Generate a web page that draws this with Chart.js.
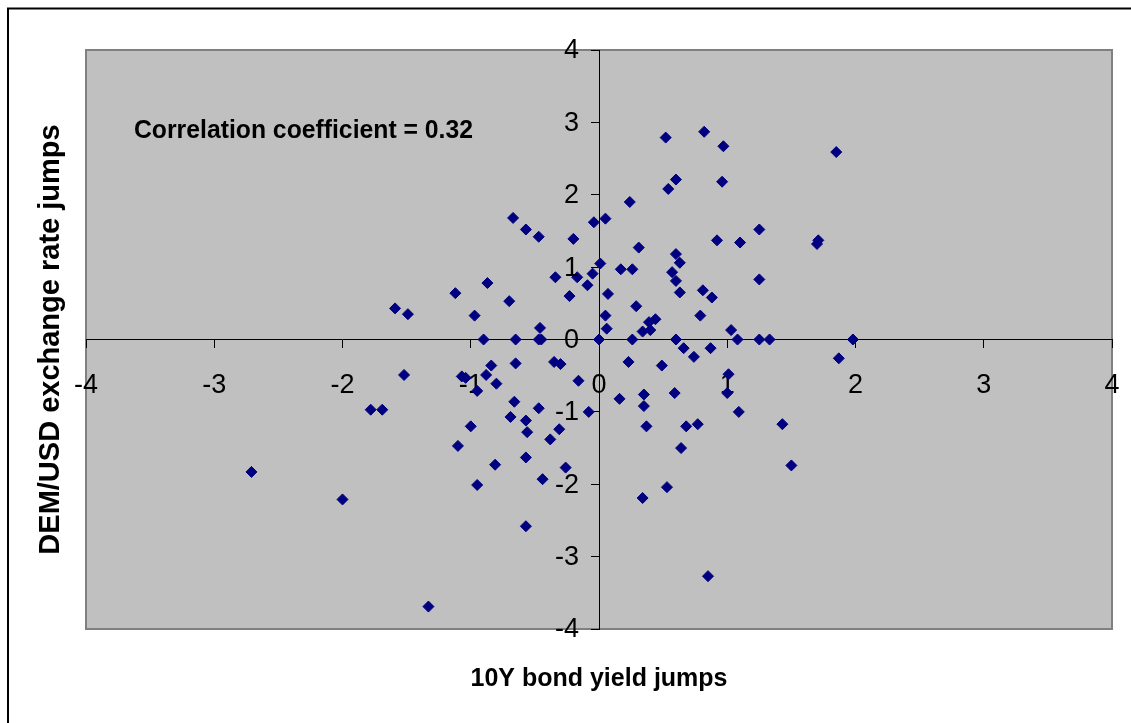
<!DOCTYPE html>
<html>
<head>
<meta charset="utf-8">
<script src="https://cdn.jsdelivr.net/npm/chart.js@4/dist/chart.umd.min.js"></script>
<style>
  body { margin: 0; background: #fff; }
  #wrap { width: 1131px; height: 723px; position: relative; }
</style>
</head>
<body>
<div id="wrap"><canvas id="myChart" width="1131" height="723"></canvas></div>
<script>
        // 10Y bond yield jumps (x) vs DEM/USD exchange rate jumps (y)
        const bondJumps = [
            -1.59, -1.49, -1.12, -0.87, -0.97, -0.90, -1.52, -1.07, -1.04, -0.84,
            -0.88, -0.80, -0.95, -1.78, -1.69, -1.00, -1.10, -0.81, -0.95, -2.71,
            -2.00, -1.33, -0.67, -0.57, -0.47, -0.20, -0.04, 0.05, -0.34, -0.17,
            -0.05, 0.01, -0.09, -0.23, 0.07, -0.70, 0.05, 0.06, -0.46, -0.65,
            -0.47, -0.45, 0.00, 0.17, 0.26, -0.65, -0.35, -0.30, -0.16, -0.66,
            -0.47, -0.69, -0.57, -0.56, -0.31, -0.38, -0.08, 0.16, -0.57, -0.26,
            -0.44, -0.57, 0.23, 0.24, 0.31, 0.29, 0.26, 0.34, 0.39, 0.40,
            0.44, 0.52, 0.54, 0.60, 0.60, 0.63, 0.57, 0.60, 0.63, 0.60,
            0.66, 0.82, 0.97, 0.96, 0.92, 1.10, 0.81, 0.88, 0.79, 0.87,
            1.25, 1.25, 1.03, 1.08, 1.25, 1.33, 1.70, 1.71, 1.85, 1.98,
            0.49, 0.74, 0.35, 0.35, 0.59, 0.37, 0.68, 0.77, 0.64, 1.01,
            1.00, 1.09, 1.43, 1.50, 1.87, 0.53, 0.34, 0.85
        ];
        const fxJumps = [
            0.43, 0.35, 0.64, 0.78, 0.33, 0.00, -0.49, -0.51, -0.53, -0.36,
            -0.49, -0.61, -0.71, -0.97, -0.97, -1.20, -1.47, -1.73, -2.01, -1.83,
            -2.21, -3.69, 1.68, 1.52, 1.42, 1.39, 1.62, 1.67, 0.86, 0.86,
            0.91, 1.05, 0.75, 0.60, 0.63, 0.53, 0.33, 0.15, 0.16, 0.00,
            0.00, 0.00, 0.00, 0.97, 0.97, -0.33, -0.31, -0.34, -0.57, -0.86,
            -0.95, -1.07, -1.12, -1.28, -1.24, -1.38, -1.00, -0.82, -1.63, -1.77,
            -1.93, -2.58, -0.31, 1.90, 1.27, 0.46, 0.00, 0.11, 0.24, 0.13,
            0.28, 2.79, 2.08, 2.21, 1.18, 1.06, 0.93, 0.81, 0.65, 0.00,
            -0.12, 2.87, 2.67, 2.18, 1.37, 1.34, 0.68, 0.58, 0.33, -0.12,
            1.52, 0.83, 0.13, 0.00, 0.00, 0.00, 1.32, 1.37, 2.59, 0.00,
            -0.36, -0.24, -0.76, -0.92, -0.74, -1.20, -1.20, -1.17, -1.50, -0.48,
            -0.74, -1.00, -1.17, -1.74, -0.26, -2.04, -2.19, -3.27
        ];
        const tickValues = [-4, -3, -2, -1, 0, 1, 2, 3, 4];
        const xTitle = '10Y bond yield jumps';
        const yTitle = 'DEM/USD exchange rate jumps';
        const corrText = 'Correlation coefficient = 0.32';

        const points = bondJumps.map((x, i) => ({ x: x, y: fxJumps[i] }));
        const fontFamily = '"Liberation Sans", Arial, sans-serif';
        const tickFontSize = 27;

        // gray plot area, outer frame and the texts
        const frame = {
            id: 'frame',
            beforeDraw(chart) {
                const ctx = chart.ctx;
                const a = chart.chartArea;
                ctx.save();
                ctx.fillStyle = '#fff';
                ctx.fillRect(0, 0, chart.width, chart.height);
                ctx.strokeStyle = '#000';
                ctx.lineWidth = 2;
                ctx.beginPath();
                ctx.moveTo(8, chart.height + 5);
                ctx.lineTo(8, 8.5);
                ctx.lineTo(chart.width + 5, 8.5);
                ctx.stroke();
                ctx.fillStyle = '#C0C0C0';
                ctx.fillRect(a.left, a.top, a.right - a.left, a.bottom - a.top);
                ctx.strokeStyle = '#808080';
                ctx.lineWidth = 2;
                ctx.strokeRect(a.left, a.top, a.right - a.left, a.bottom - a.top);
                ctx.restore();
            },
            afterDraw(chart) {
                const ctx = chart.ctx;
                const a = chart.chartArea;
                const xs = chart.scales.x;
                const ys = chart.scales.y;
                ctx.save();
                ctx.fillStyle = '#000';

                // y tick labels, left of the axis line at x = 0
                ctx.font = tickFontSize + 'px ' + fontFamily;
                ctx.textAlign = 'right';
                ctx.textBaseline = 'middle';
                const axisX = xs.getPixelForValue(0);
                ys.ticks.forEach(t => {
                    ctx.fillText(String(t.value), axisX - 20, ys.getPixelForValue(t.value) + 1);
                });

                // correlation note, condensed bold
                ctx.font = 'bold 26px ' + fontFamily;
                ctx.textBaseline = 'alphabetic';
                ctx.textAlign = 'left';
                let w = ctx.measureText(corrText).width;
                ctx.save();
                ctx.translate(a.left + 48, a.top + 88);
                ctx.scale(339 / w, 1);
                ctx.fillText(corrText, 0, 0);
                ctx.restore();

                // x axis title
                ctx.font = 'bold 25px ' + fontFamily;
                ctx.textAlign = 'center';
                ctx.fillText(xTitle, (a.left + a.right) / 2, a.bottom + 57);

                // y axis title
                ctx.font = 'bold 29px ' + fontFamily;
                ctx.save();
                ctx.translate(59, (a.top + a.bottom) / 2);
                ctx.rotate(-Math.PI / 2);
                ctx.fillText(yTitle, 0, 0);
                ctx.restore();

                ctx.restore();
            }
        };

        const ctx = document.getElementById('myChart').getContext('2d');
        const myChart = new Chart(ctx, {
            type: 'scatter',
            data: {
                datasets: [{
                    label: 'Jumps',
                    data: points,
                    pointStyle: 'rectRot',
                    pointRadius: 5.5,
                    pointHoverRadius: 5.5,
                    backgroundColor: '#000080',
                    borderColor: '#000080',
                    borderWidth: 1
                }]
            },
            options: {
                responsive: false,
                devicePixelRatio: 1,
                animation: false,
                layout: {
                    padding: { left: 86, right: 19, top: 50, bottom: 94 }
                },
                plugins: {
                    legend: { display: false },
                    tooltip: { enabled: false }
                },
                scales: {
                    x: {
                        type: 'linear',
                        position: { y: 0 },
                        min: -4,
                        max: 4,
                        afterBuildTicks: axis => { axis.ticks = tickValues.map(v => ({ value: v })); },
                        // the "4" label may hang over the right edge, as in the original
                        afterFit: axis => { axis.paddingRight = 0; axis.paddingLeft = 0; },
                        border: { display: true, color: '#000', width: 1 },
                        grid: { drawOnChartArea: false, drawTicks: true, tickLength: 8, color: '#000' },
                        ticks: {
                            autoSkip: false,
                            maxRotation: 0,
                            padding: 22,
                            color: '#000',
                            font: { family: fontFamily, size: tickFontSize }
                        }
                    },
                    y: {
                        type: 'linear',
                        position: { x: 0 },
                        min: -4,
                        max: 4,
                        afterBuildTicks: axis => { axis.ticks = tickValues.map(v => ({ value: v })); },
                        border: { display: true, color: '#000', width: 1 },
                        grid: { drawOnChartArea: false, drawTicks: true, tickLength: 8, color: '#000' },
                        ticks: {
                            autoSkip: false,
                            color: 'rgba(0,0,0,0)',
                            font: { family: fontFamily, size: tickFontSize }
                        }
                    }
                }
            },
            plugins: [frame]
        });
</script>
</body>
</html>
